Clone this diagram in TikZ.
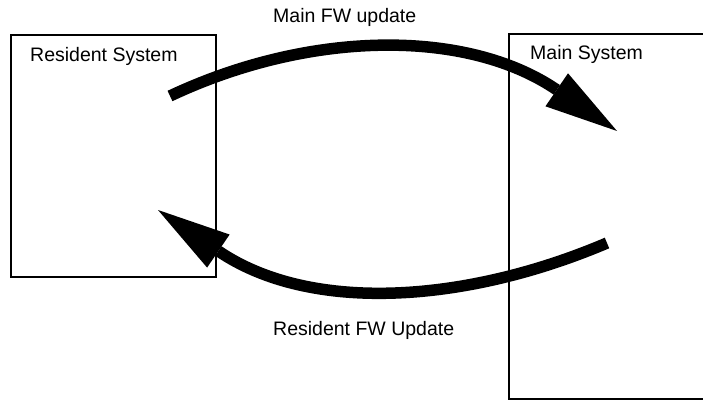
\documentclass[tikz,border=0pt]{standalone}
\usepackage{fontspec}
\setmainfont{Liberation Sans}
\usetikzlibrary{arrows.meta}
\begin{document}
\begin{tikzpicture}[x=1pt,y=-1pt,
  sysbox/.style={draw=black, line width=2pt, inner sep=0pt, anchor=north west},
  openbox/.style={inner sep=0pt, outer sep=0pt, anchor=north west},
  edge/.style={draw=black, line width=2pt},
  lbl/.style={anchor=base west, inner sep=0pt, font=\fontsize{19.5}{22}\selectfont},
  bigarrow/.style={draw=black, line width=11.5pt,
    -{Triangle[length=73pt,width=40pt,line width=0pt]}}]
\useasboundingbox (0,0) rectangle (703,401);
\fill[white] (0,0) rectangle (703,401);
% boxes
\node[sysbox, minimum width=205pt, minimum height=242pt] (res) at (10,34) {};
\node[openbox, minimum width=200pt, minimum height=365pt] (main) at (509,34) {};
\draw[edge] (main.north east) -- (main.north west) -- (main.south west) -- (main.south east);
% labels
\node[lbl] (resl) at (30,62) {Resident System};
\node[lbl] (mainl) at (530,60) {Main System};
\node[lbl] (upl) at (273,23) {Main FW update};
\node[lbl] (dnl) at (273,335) {Resident FW Update};
% arrow end points
\coordinate (s1) at (170,96);
\coordinate (t1) at (617,131);
\coordinate (s2) at (607,243);
\coordinate (t2) at (158,210);
\draw[bigarrow] (s1) .. controls (310,30) and (467,28.5) .. (t1);
\draw[bigarrow] (s2) .. controls (466,303) and (310.5,313.75) .. (t2);
\end{tikzpicture}
\end{document}
